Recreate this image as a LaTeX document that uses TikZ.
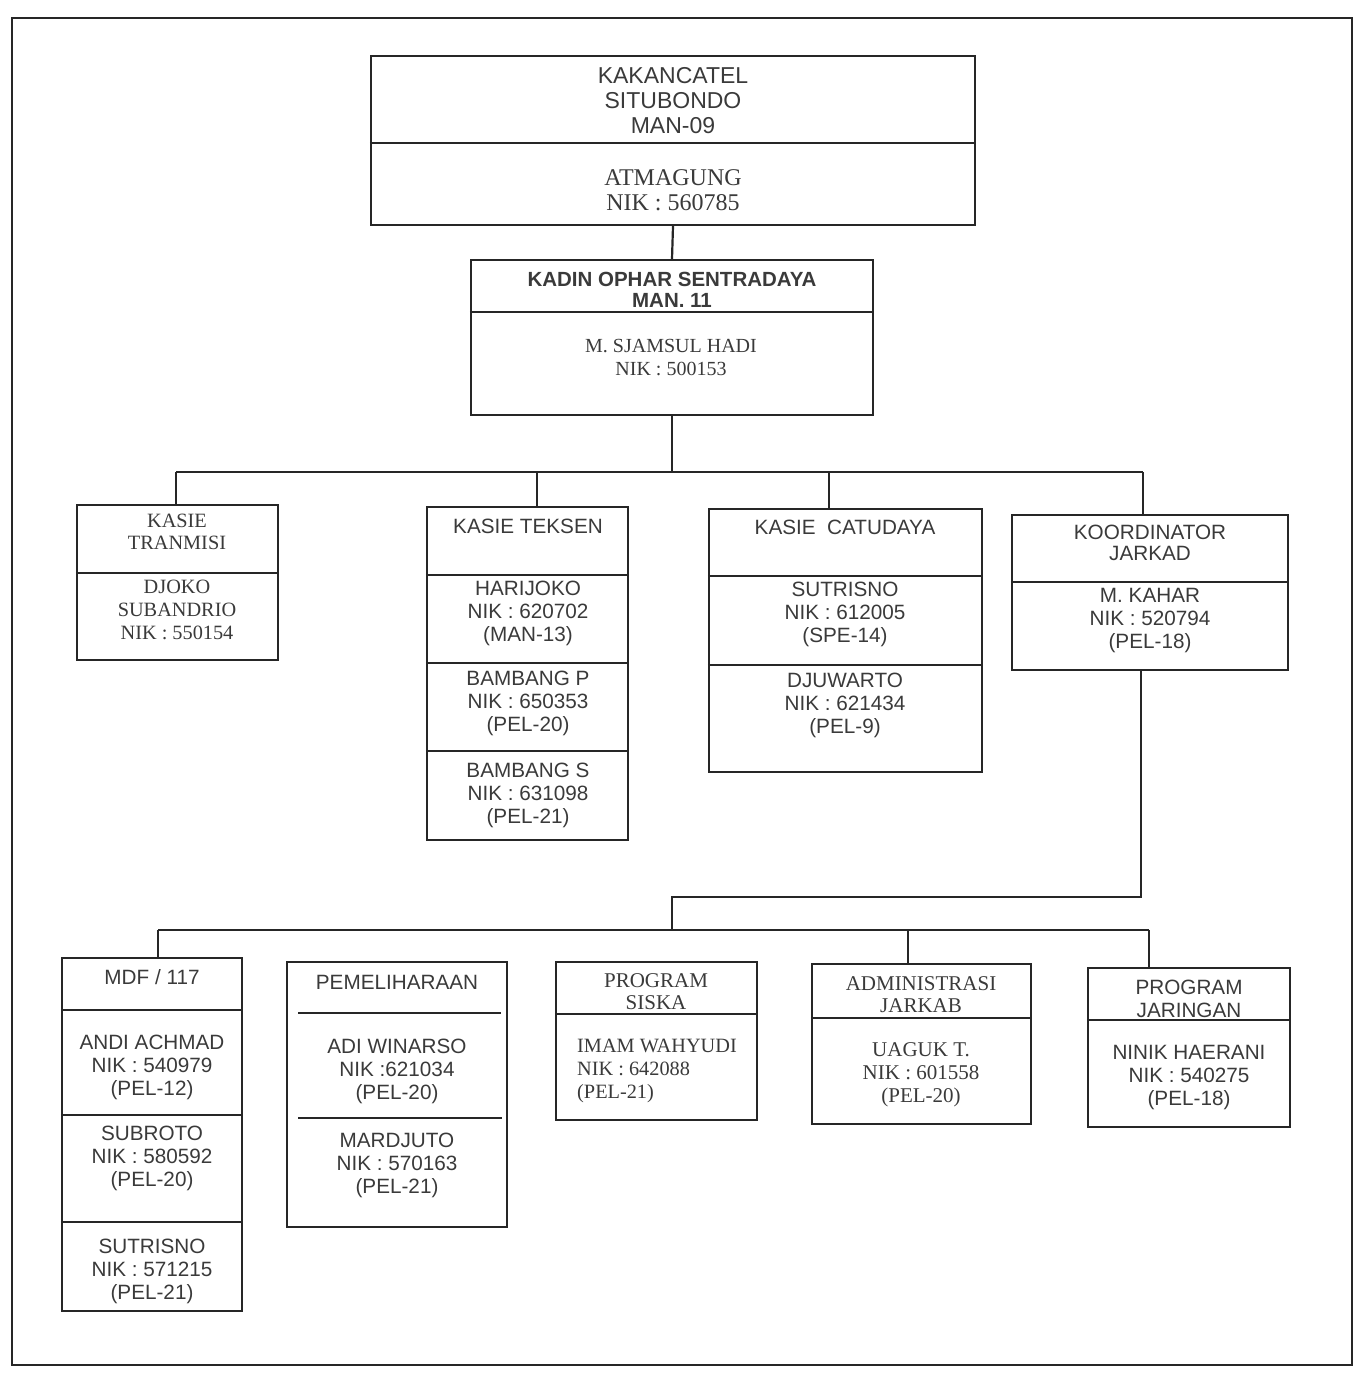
\documentclass[tikz,border=0pt]{standalone}
\usepackage{fontspec}
\setmainfont{Liberation Serif}
\setsansfont{Liberation Sans}
\usetikzlibrary{fit,calc}
\definecolor{ink}{HTML}{262626}
\definecolor{txtc}{HTML}{3A3A3A}
\tikzset{
  box/.style={draw=ink, line width=2.2pt, inner sep=0pt, rectangle},
  divl/.style={draw=ink, line width=2pt},
  conn/.style={draw=ink, line width=2.2pt},
  frame/.style={draw=ink, line width=2.8pt},
  sanst/.style={font=\fontsize{20.7}{23}\selectfont\sffamily, text=txtc, align=center, inner sep=0pt},
  serift/.style={font=\fontsize{21}{23}\selectfont\rmfamily, text=txtc, align=center, inner sep=0pt},
}
\newcommand\obox[5]{\path (#2,#3) coordinate (#1-nw) (#4,#5) coordinate (#1-se);
  \node[box, fit=(#1-nw)(#1-se)] (#1) {};}
\newcommand\hdiv[2]{\draw[divl] (#1.west |- 0,#2) -- (#1.east |- 0,#2);}
\begin{document}
\begin{tikzpicture}[x=1pt,y=-1pt]
\useasboundingbox (0,0) rectangle (1361,1375);
\draw[frame] (12,18) rectangle (1352,1365);

% ---- top box
\obox{top}{371}{56}{975}{225}
\hdiv{top}{143}
\node[sanst, font=\fontsize{23}{25}\selectfont\sffamily] (topH) at (673,101) {KAKANCATEL\\SITUBONDO\\MAN-09};
\node[serift, font=\fontsize{24}{25}\selectfont\rmfamily] (topB) at (673,190.5) {ATMAGUNG\\NIK : 560785};

% ---- kadin box
\obox{kadin}{471}{260}{873}{415}
\hdiv{kadin}{312}
\node[sanst, font=\fontsize{20.5}{21}\selectfont\sffamily\bfseries] (kadinH) at (672,289.5) {KADIN OPHAR SENTRADAYA\\MAN. 11};
\node[serift, font=\fontsize{20}{23}\selectfont\rmfamily] (kadinB) at (671,357.5) {M. SJAMSUL HADI\\NIK : 500153};

% ---- middle row
\obox{tran}{77}{505}{278}{660}
\hdiv{tran}{573}
\node[serift, font=\fontsize{20.3}{22}\selectfont\rmfamily] (tranH) at (177,532) {KASIE\\TRANMISI};
\node[serift, font=\fontsize{20.3}{23}\selectfont\rmfamily] (tranB) at (177,610) {DJOKO\\SUBANDRIO\\NIK : 550154};

\obox{tek}{427}{507}{628}{840}
\hdiv{tek}{575}\hdiv{tek}{663}\hdiv{tek}{751}
\node[sanst] (tekH) at (528,526) {KASIE TEKSEN};
\node[sanst] (tekB1) at (528,613.5) {HARIJOKO\\NIK : 620702\\(MAN-13)};
\node[sanst] (tekB2) at (528,703.5) {BAMBANG P\\NIK : 650353\\(PEL-20)};
\node[sanst] (tekB3) at (528,795) {BAMBANG S\\NIK : 631098\\(PEL-21)};

\obox{catu}{709}{509}{982}{772}
\hdiv{catu}{576}\hdiv{catu}{665}
\node[sanst] (catuH) at (845,527) {KASIE\ \ CATUDAYA};
\node[sanst] (catuB1) at (845,614.5) {SUTRISNO\\NIK : 612005\\(SPE-14)};
\node[sanst] (catuB2) at (845,705) {DJUWARTO\\NIK : 621434\\(PEL-9)};

\obox{koord}{1012}{515}{1288}{670}
\hdiv{koord}{582}
\node[sanst, font=\fontsize{20.7}{21}\selectfont\sffamily] (koordH) at (1150,542.5) {KOORDINATOR\\JARKAD};
\node[sanst] (koordB) at (1150,621) {M. KAHAR\\NIK : 520794\\(PEL-18)};

% ---- bottom row
\obox{mdf}{62}{958}{242}{1311}
\hdiv{mdf}{1010}\hdiv{mdf}{1115}\hdiv{mdf}{1222}
\node[sanst] (mdfH) at (152,977) {MDF / 117};
\node[sanst] (mdfB1) at (152,1067.5) {ANDI ACHMAD\\NIK : 540979\\(PEL-12)};
\node[sanst] (mdfB2) at (152,1158) {SUBROTO\\NIK : 580592\\(PEL-20)};
\node[sanst] (mdfB3) at (152,1271) {SUTRISNO\\NIK : 571215\\(PEL-21)};

\obox{pem}{287}{962}{507}{1227}
\draw[divl] (298,1013) -- (501,1013);
\draw[divl] (298,1118) -- (502,1118);
\node[sanst] (pemH) at (397,982) {PEMELIHARAAN};
\node[sanst] (pemB1) at (397,1071.5) {ADI WINARSO\\NIK :621034\\(PEL-20)};
\node[sanst] (pemB2) at (397,1165) {MARDJUTO\\NIK : 570163\\(PEL-21)};

\obox{siska}{556}{962}{757}{1120}
\hdiv{siska}{1014}
\node[serift, font=\fontsize{21}{22}\selectfont\rmfamily] (siskaH) at (656,992) {PROGRAM\\SISKA};
\node[serift, font=\fontsize{20.3}{23}\selectfont\rmfamily, align=left] (siskaB) at (657,1071) {IMAM WAHYUDI\\NIK : 642088\\(PEL-21)};

\obox{adm}{812}{964}{1031}{1124}
\hdiv{adm}{1018}
\node[serift, font=\fontsize{21}{22}\selectfont\rmfamily] (admH) at (921,995) {ADMINISTRASI\\JARKAB};
\node[serift] (admB) at (921,1075) {UAGUK T.\\NIK : 601558\\(PEL-20)};

\obox{pj}{1088}{968}{1290}{1127}
\hdiv{pj}{1020}
\node[sanst] (pjH) at (1189,998.5) {PROGRAM\\JARINGAN};
\node[sanst] (pjB) at (1189,1078) {NINIK HAERANI\\NIK : 540275\\(PEL-18)};

% ---- connectors
\draw[conn] (top.south) -- (kadin.north);
\coordinate (j1) at (672,472);
\coordinate (d1) at (176,472);
\coordinate (d2) at (537,472);
\coordinate (d3) at (829,472);
\coordinate (d4) at (1143,472);
\draw[conn] (kadin.south) -- (j1);
\draw[conn] (d1) -- (d4);
\draw[conn] (d1) -- (d1 |- tran.north);
\draw[conn] (d2) -- (d2 |- tek.north);
\draw[conn] (d3) -- (d3 |- catu.north);
\draw[conn] (d4) -- (d4 |- koord.north);

\coordinate (k1) at (1141,670);
\coordinate (k2) at (1141,897);
\coordinate (k3) at (672,897);
\coordinate (j2) at (672,930);
\coordinate (e1) at (158,930);
\coordinate (e2) at (908,930);
\coordinate (e3) at (1149,930);
\draw[conn] (k1) -- (k2) -- (k3) -- (j2);
\draw[conn] (e1) -- (e3);
\draw[conn] (e1) -- (e1 |- mdf.north);
\draw[conn] (e2) -- (e2 |- adm.north);
\draw[conn] (e3) -- (e3 |- pj.north);
\end{tikzpicture}
\end{document}
